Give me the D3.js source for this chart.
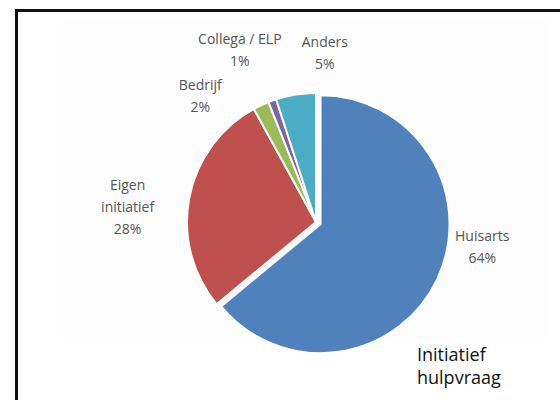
<!DOCTYPE html>
<html>
<head>
<meta charset="utf-8">
<script src="https://cdn.jsdelivr.net/npm/d3@7"></script>
<style>
  html, body { margin: 0; padding: 0; background: #fff; }
  svg { display: block; }
</style>
</head>
<body>
<svg id="chart" width="560" height="400"></svg>
<script>
// ---- data ----
const categories = ["Huisarts", "Eigen initiatief", "Bedrijf", "Collega / ELP", "Anders"];
const labelLines = [["Huisarts"], ["Eigen", "initiatief"], ["Bedrijf"], ["Collega / ELP"], ["Anders"]];
const values = [64, 28, 2, 1, 5];
const colors = ["#4F81BD", "#C0504D", "#9BBB59", "#8064A2", "#4BACC6"];
const titleLines = ["Initiatief", "hulpvraag"];

// ---- layout ----
const svg = d3.select("#chart");
const cx = 316, cy = 222, R = 129;
const explode = [5, 0, 0, 0, 0];

// outer frame
svg.append("rect")
  .attr("x", 16.5).attr("y", 10.5)
  .attr("width", 600).attr("height", 500)
  .attr("fill", "none").attr("stroke", "#111").attr("stroke-width", 3);

// faint embedded-picture background
svg.append("rect")
  .attr("x", 63).attr("y", 20).attr("width", 485).attr("height", 318)
  .attr("fill", "#fdfdfd");

const pie = d3.pie().sort(null).value(d => d).startAngle(0).endAngle(2 * Math.PI);
const arcs = pie(values);
const arc = d3.arc().innerRadius(0).outerRadius(R);

const g = svg.append("g").attr("transform", `translate(${cx},${cy})`);

g.selectAll("path.slice")
  .data(arcs)
  .join("path")
  .attr("class", "slice")
  .attr("d", arc)
  .attr("fill", (d, i) => colors[i])
  .attr("stroke", "#fff")
  .attr("stroke-width", 2)
  .attr("stroke-linejoin", "round")
  .attr("transform", (d, i) => {
    const p = d3.pointRadial((d.startAngle + d.endAngle) / 2, explode[i]);
    return `translate(${p[0]},${p[1]})`;
  });

// label placement (angle in degrees clockwise from top, radius in px)
const labelPolar = [[98.4, 168], [274.7, 189], [317.4, 171], [336.1, 188], [3.0, 169]];
const lineH = 22;

g.selectAll("text.lbl")
  .data(arcs)
  .join("text")
  .attr("class", "lbl")
  .attr("text-anchor", "middle")
  .attr("font-family", "'Open Sans', 'Noto Sans', sans-serif")
  .attr("font-size", 14)
  .attr("fill", "#555")
  .each(function (d, i) {
    const p = d3.pointRadial(labelPolar[i][0] * Math.PI / 180, labelPolar[i][1]);
    const lines = labelLines[i].concat([d.data + "%"]);
    const n = lines.length;
    d3.select(this).selectAll("tspan")
      .data(lines)
      .join("tspan")
      .attr("x", p[0])
      .attr("y", (t, k) => p[1] + (k - (n - 1) / 2) * lineH + 5)
      .text(t => t);
  });

// title
svg.append("text")
  .attr("font-family", "'Open Sans', 'Noto Sans', sans-serif")
  .attr("font-size", 18)
  .attr("fill", "#111")
  .selectAll("tspan")
  .data(titleLines)
  .join("tspan")
  .attr("x", 417)
  .attr("y", (t, k) => 361 + k * 23)
  .text(t => t);
</script>
</body>
</html>
